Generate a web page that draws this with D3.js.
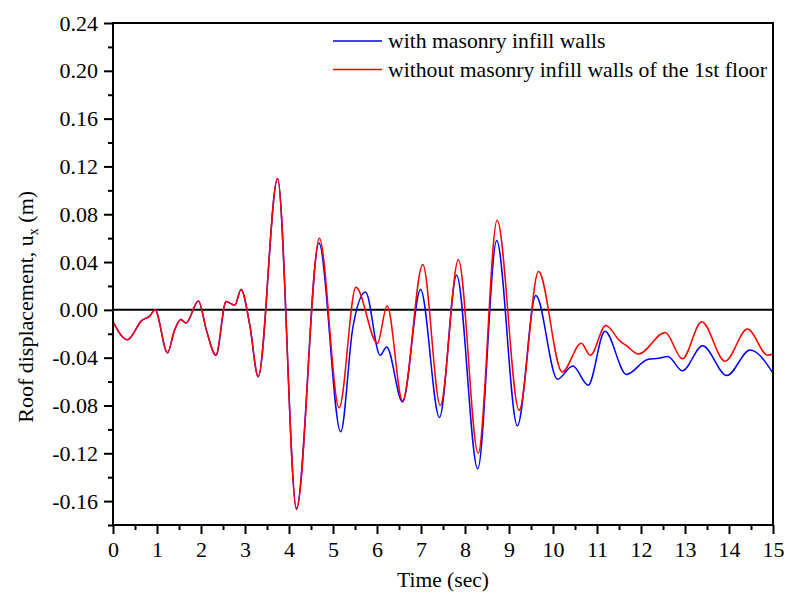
<!DOCTYPE html>
<html>
<head>
<meta charset="utf-8">
<script src="https://cdn.jsdelivr.net/npm/d3@7"></script>
<style>
  body { margin: 0; background: #fff; }
  svg text { font-family: "Liberation Serif", "Times New Roman", serif; fill: #000; }
</style>
</head>
<body>
<div id="graph1"></div>
<script>
// series (time in sec, roof displacement in m)
var timeWith = [0, 0.33, 0.65, 0.84, 0.955, 1.24, 1.39, 1.54, 1.66, 1.94, 2.13, 2.34, 2.57, 2.77, 2.91, 3.11, 3.30, 3.74, 4.17,
    4.68, 5.175, 5.45, 5.74, 6.07, 6.22, 6.58, 6.99, 7.42, 7.81, 8.29, 8.72, 9.19, 9.61, 10.10, 10.45, 10.80, 11.18,
    11.67, 12.15, 12.40, 12.61, 12.94, 13.40, 13.95, 14.48, 15];
var dispWith = [-0.010, -0.025, -0.009, -0.005, 0.000, -0.036, -0.018, -0.008, -0.011, 0.0075, -0.018, -0.038, 0.007, 0.004, 0.017, -0.013, -0.056, 0.110, -0.166,
    0.056, -0.102, -0.015, 0.015, -0.038, -0.031, -0.077, 0.017, -0.090, 0.029, -0.133, 0.058, -0.097, 0.012, -0.058, -0.047, -0.063, -0.018,
    -0.054, -0.0415, -0.0405, -0.039, -0.051, -0.030, -0.055, -0.0335, -0.053];

var timeWithout = [0, 0.33, 0.65, 0.84, 0.955, 1.24, 1.39, 1.54, 1.66, 1.94, 2.13, 2.34, 2.57, 2.77, 2.91, 3.11, 3.30, 3.74, 4.17,
    4.69, 5.14, 5.52, 6.01, 6.23, 6.58, 7.04, 7.44, 7.85, 8.30, 8.73, 9.23, 9.67, 10.21, 10.64, 10.85, 11.20,
    11.52, 11.67, 11.94, 12.55, 12.94, 13.38, 13.91, 14.42, 14.88, 15];
var dispWithout = [-0.010, -0.025, -0.009, -0.005, 0.000, -0.036, -0.018, -0.008, -0.011, 0.0075, -0.018, -0.038, 0.007, 0.004, 0.017, -0.013, -0.056, 0.110, -0.167,
    0.060, -0.082, 0.019, -0.028, 0.0035, -0.076, 0.038, -0.080, 0.042, -0.120, 0.075, -0.084, 0.032, -0.052, -0.028, -0.038, -0.013,
    -0.026, -0.030, -0.037, -0.019, -0.041, -0.010, -0.043, -0.016, -0.038, -0.037];

var seriesNames = ["with masonry infill walls", "without masonry infill walls of the 1st floor"];
var seriesColors = ["#0000ff", "#ff0000"];

var xMajor = d3.range(0, 16, 1);
var xMinor = d3.range(0.5, 15, 1);
var yMajor = [-0.16, -0.12, -0.08, -0.04, 0.00, 0.04, 0.08, 0.12, 0.16, 0.20, 0.24];
var yMinor = [-0.18, -0.14, -0.10, -0.06, -0.02, 0.02, 0.06, 0.10, 0.14, 0.18, 0.22];

var margin = {top: 23, right: 15, bottom: 69, left: 113},
    width = 788 - margin.left - margin.right,
    height = 594 - margin.top - margin.bottom;

var svg = d3.select("#graph1")
    .append("svg")
    .attr("width", 788)
    .attr("height", 594)
    .append("g")
    .attr("transform", "translate(" + margin.left + "," + margin.top + ")");

var x = d3.scaleLinear().domain([0, 15]).range([0, width]);
var y = d3.scaleLinear().domain([-0.18, 0.24]).range([height, 0]);

var fmt = function (d) {
    return d3.format(".2f")(Math.round(d * 100) / 100).replace("\u2212", "-");
};

// minor ticks
svg.append("g")
    .attr("transform", "translate(0," + height + ")")
    .call(d3.axisBottom(x).tickValues(xMinor).tickSize(5).tickFormat(""))
    .call(function (g) { g.select(".domain").remove(); });
svg.append("g")
    .call(d3.axisLeft(y).tickValues(yMinor).tickSize(5).tickFormat(""))
    .call(function (g) { g.select(".domain").remove(); });

// major ticks
svg.append("g")
    .attr("transform", "translate(0," + height + ")")
    .call(d3.axisBottom(x).tickValues(xMajor).tickSize(9).tickPadding(7).tickFormat(d3.format("d")))
    .call(function (g) { g.select(".domain").remove(); })
    .selectAll("text")
    .style("font-size", "22px");
svg.append("g")
    .call(d3.axisLeft(y).tickValues(yMajor).tickSize(9).tickPadding(6).tickFormat(fmt))
    .call(function (g) { g.select(".domain").remove(); })
    .selectAll("text")
    .style("font-size", "22px");

svg.selectAll(".tick line").attr("stroke", "#000").attr("stroke-width", 2);

// zero line
svg.append("line")
    .attr("x1", 0).attr("x2", width)
    .attr("y1", y(0)).attr("y2", y(0))
    .attr("stroke", "#000")
    .attr("stroke-width", 2);

// the lines
var dataReady = [
    {name: seriesNames[0], color: seriesColors[0], values: timeWith.map(function (t, i) { return {time: t, value: dispWith[i]}; })},
    {name: seriesNames[1], color: seriesColors[1], values: timeWithout.map(function (t, i) { return {time: t, value: dispWithout[i]}; })}
];

var line = d3.line()
    .curve(d3.curveMonotoneX)
    .x(function (d) { return x(d.time); })
    .y(function (d) { return y(d.value); });

svg.selectAll("myLines")
    .data(dataReady)
    .enter()
    .append("path")
    .attr("d", function (d) { return line(d.values); })
    .attr("stroke", function (d) { return d.color; })
    .style("stroke-width", 1.5)
    .style("fill", "none");

// frame
svg.append("rect")
    .attr("width", width)
    .attr("height", height)
    .attr("fill", "none")
    .attr("stroke", "#000")
    .attr("stroke-width", 2);

// legend
var legend = svg.selectAll("myLegend")
    .data(dataReady)
    .enter()
    .append("g")
    .attr("transform", function (d, i) { return "translate(220," + (18 + i * 28.5) + ")"; });
legend.append("line")
    .attr("x1", 0).attr("x2", 49)
    .attr("stroke", function (d) { return d.color; })
    .attr("stroke-width", 1.5);
legend.append("text")
    .attr("x", 55)
    .attr("y", 7)
    .style("font-size", "21.7px")
    .text(function (d) { return d.name; });

// axis titles
svg.append("text")
    .attr("x", width / 2)
    .attr("y", height + 62)
    .attr("text-anchor", "middle")
    .style("font-size", "21.5px")
    .text("Time (sec)");

var yTitle = svg.append("text")
    .attr("transform", "translate(-80," + (y(0) - 3) + ") rotate(-90)")
    .attr("text-anchor", "middle")
    .style("font-size", "22px");
yTitle.append("tspan").text("Roof displacement, u");
yTitle.append("tspan").attr("dy", 5).style("font-size", "14px").text("x");
yTitle.append("tspan").attr("dy", -5).text(" (m)");
</script>
</body>
</html>
